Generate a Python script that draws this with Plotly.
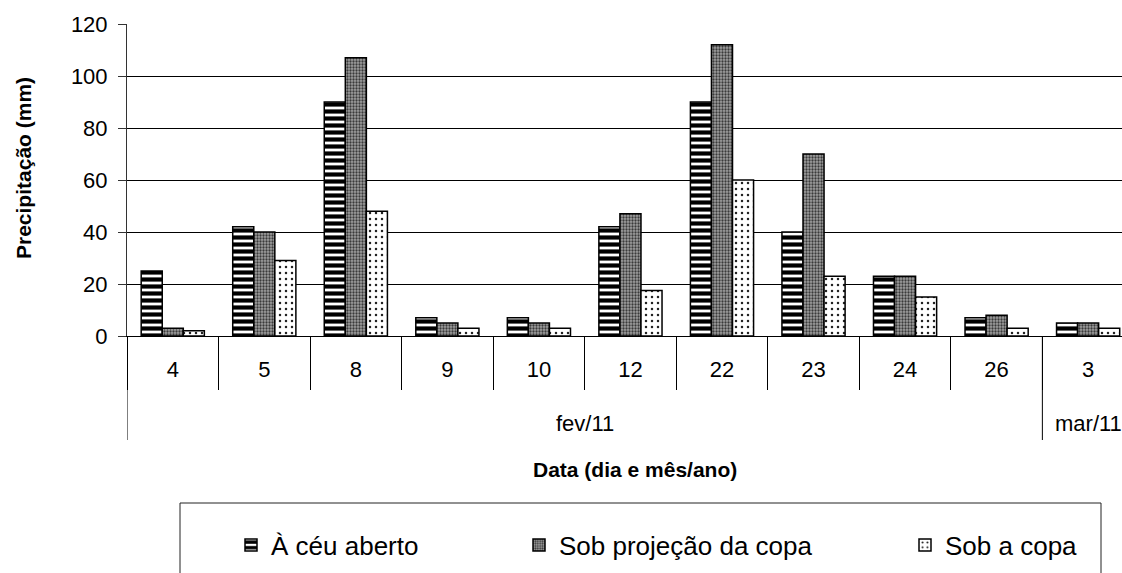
import plotly.graph_objects as go

# Rain collection days (day of month) and the month each belongs to
days = ["4", "5", "8", "9", "10", "12", "22", "23", "24", "26", "3"]
months = ["fev/11", "mar/11"]
month_centers = [4.5, 10]          # centre of each month's group of days
month_edges = [-0.5, 9.5]          # where each month's group starts

# Precipitation (mm) per collection point
ceu_aberto = [25, 42, 90, 7, 7, 42, 90, 40, 23, 7, 5]
sob_projecao = [3, 40, 107, 5, 5, 47, 112, 70, 23, 8, 5]
sob_copa = [2, 29, 48, 3, 3, 17.5, 60, 23, 15, 3, 3]

series_names = ["À céu aberto", "Sob projeção da copa", "Sob a copa"]
y_ticks = [0, 20, 40, 60, 80, 100, 120]

W, H = 1122, 573
L, R, T, B = 127, 0, 24, 237
PW, PH = W - L - R, H - T - B


def px_x(px):
    return (px - L) / PW


def px_y(py):
    return (H - B - py) / PH


FONT = "Liberation Sans, Arial, sans-serif"
edge = dict(color="black", width=1.5)

fig = go.Figure()
fig.add_trace(go.Bar(
    x=days, y=ceu_aberto, name=series_names[0], legend="legend",
    marker=dict(color="white", line=edge,
                pattern=dict(shape="-", fgcolor="black", bgcolor="white",
                             fgopacity=1, size=7, solidity=0.6)),
))
fig.add_trace(go.Bar(
    x=days, y=sob_projecao, name=series_names[1], legend="legend2",
    marker=dict(color="#8c8c8c", line=edge,
                pattern=dict(shape=".", fgcolor="#3a3a3a", bgcolor="#a0a0a0",
                             fgopacity=1, size=3, solidity=0.45)),
))
fig.add_trace(go.Bar(
    x=days, y=sob_copa, name=series_names[2], legend="legend3",
    marker=dict(color="white", line=edge,
                pattern=dict(shape=".", fgcolor="#222222", bgcolor="white",
                             fgopacity=1, size=6, solidity=0.14)),
))

legend_common = dict(
    orientation="h", yanchor="middle", y=px_y(545), xanchor="left",
    bgcolor="rgba(0,0,0,0)", borderwidth=0, visible=True,
    font=dict(family=FONT, size=26, color="black"),
)

shapes = []
# month group dividers below the category axis
for xe in month_edges:
    shapes.append(dict(type="line", xref="x", yref="paper",
                       x0=xe, x1=xe, y0=0, y1=px_y(440),
                       line=dict(color="black", width=1)))
# legend frame
shapes.append(dict(type="rect", xref="paper", yref="paper",
                   x0=px_x(180), x1=px_x(1101), y0=px_y(503), y1=px_y(590),
                   line=dict(color="#222222", width=1), fillcolor="rgba(0,0,0,0)"))

annotations = []
for m, c in zip(months, month_centers):
    annotations.append(dict(text=m, x=c, y=px_y(424), xref="x", yref="paper",
                            showarrow=False, xanchor="center", yanchor="middle",
                            font=dict(family=FONT, size=22, color="black")))
annotations.append(dict(text="<b>Data (dia e mês/ano)</b>", x=px_x(635), y=px_y(469),
                        xref="paper", yref="paper", showarrow=False,
                        xanchor="center", yanchor="middle",
                        font=dict(family=FONT, size=21, color="black")))
annotations.append(dict(text="<b>Precipitação (mm)</b>", x=px_x(23), y=px_y(168),
                        xref="paper", yref="paper", showarrow=False, textangle=-90,
                        xanchor="center", yanchor="middle",
                        font=dict(family=FONT, size=21, color="black")))

fig.update_layout(
    width=W, height=H,
    margin=dict(l=L, r=R, t=T, b=B, autoexpand=False),
    paper_bgcolor="white", plot_bgcolor="white",
    showlegend=True,
    barmode="group", bargap=0.31, bargroupgap=0,
    font=dict(family=FONT, color="black"),
    legend=dict(legend_common, x=px_x(231)),
    legend2=dict(legend_common, x=px_x(519)),
    legend3=dict(legend_common, x=px_x(905)),
    shapes=shapes, annotations=annotations,
    xaxis=dict(
        type="category", range=[-0.5, 10.37],
        showline=True, linecolor="black", linewidth=1,
        showgrid=False, zeroline=False,
        tickson="boundaries", ticks="outside", ticklen=53,
        tickcolor="black", tickwidth=1,
        ticklabelstandoff=14,
        tickfont=dict(family=FONT, size=22, color="black"),
    ),
    yaxis=dict(
        range=[0, 120], tickvals=y_ticks,
        showline=True, linecolor="#333333", linewidth=1,
        showgrid=True, gridcolor="black", gridwidth=1,
        zeroline=False,
        ticks="outside", ticklen=8, tickcolor="#333333",
        ticklabelstandoff=6,
        tickfont=dict(family=FONT, size=22, color="black"),
    ),
)

fig.write_html("out.html")
